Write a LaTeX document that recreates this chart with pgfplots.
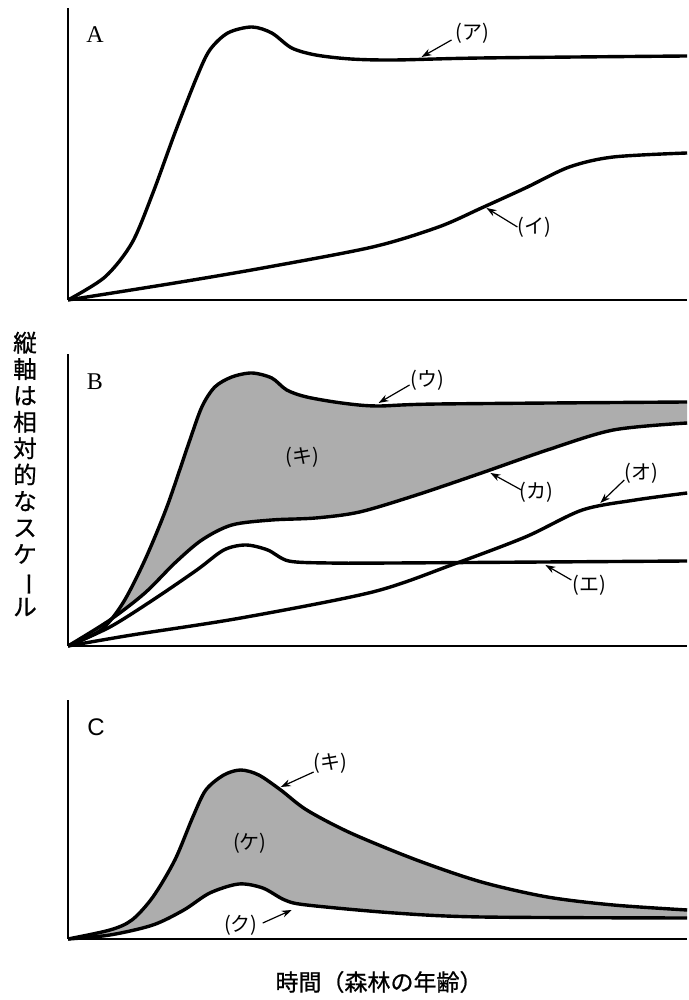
\documentclass[border=0pt]{standalone}
\usepackage{pgfplots}
\pgfplotsset{compat=1.18}
\usepackage{pgfplotstable}
\usepgfplotslibrary{fillbetween}
\usetikzlibrary{arrows.meta}
\usepackage{fontspec}
\setmainfont{Liberation Serif}
\newfontfamily\jp{Noto Sans CJK JP}
\newfontfamily\jpb[FakeBold=0.8]{Noto Sans CJK JP}
\newfontfamily\hv{Liberation Sans}

% panel A
\pgfplotstableread{
x y
0 0
37 23
64 57
85 107
107 167
129 223
142 250
160 267
184 273
204 267
224 252
248 245
283 241
327 240
414 242
620 244
}\curveA
\pgfplotstableread{
x y
0 0
107 17
195 32
305 53
371 73
414 92
458 112
502 133
546 143
620 147
}\curveI

% panel B
\pgfplotstableread{
x y
0 0
33 16
55 43
77 86
99 139
121 203
134 239
147 259
164 269
184 273
204 268
219 256
239 249
274 243
309 240
371 242
620 244
}\curveU
\pgfplotstableread{
x y
0 0
42 26
77 53
107 83
134 106
164 121
204 126
248 128
292 134
349 151
414 173
480 196
546 216
620 223
}\curveKa
\pgfplotstableread{
x y
0 0
42 19
85 46
129 76
156 96
178 101
200 96
221 85
261 83
327 83
620 85
}\curveE
\pgfplotstableread{
x y
0 0
64 11
173 28
305 54
384 81
458 109
515 136
568 146
620 153
}\curveO

% panel C
\pgfplotstableread{
x y
0 0
42 9
64 19
85 42
107 79
125 122
138 149
156 164
173 169
191 164
213 149
239 129
283 106
349 79
414 57
480 42
546 34
620 29
}\curveKi
\pgfplotstableread{
x y
0 0
42 4
85 14
116 29
142 46
171 55
195 51
217 39
239 34
327 26
414 22
620 21
}\curveKu

\definecolor{dotgray}{gray}{0.68}

\pgfplotsset{
  panel/.style={scale only axis, width=309.6pt, xmin=0, xmax=620, ymin=0,
    axis x line=bottom, axis y line=left,
    axis line style={-, line width=0.7pt},
    xtick=\empty, ytick=\empty, clip=false},
  curve/.style={black, line width=1.7pt, smooth, no marks},
}
\tikzset{
  lbl/.style={font=\jp\fontsize{10}{11}\selectfont, inner sep=0pt},
  ptr/.style={-{Stealth[length=5pt,width=3.5pt]}, line width=0.6pt},
}

\begin{document}
\begin{tikzpicture}

% A
\begin{axis}[panel, height=146pt, ymax=292, at={(34pt,350pt)}, anchor=south west]
  \addplot[curve] table {\curveA};
  \addplot[curve] table {\curveI};
  \node[font=\fontsize{12}{14}\selectfont] at (axis cs:27,265) {A};
  \draw[ptr] (axis cs:384,260) -- (axis cs:354,243);
  \node[lbl] at (axis cs:405,267) {(ア)};
  \draw[ptr] (axis cs:450,73) -- (axis cs:419,92);
  \node[lbl] at (axis cs:467,73) {(イ)};
\end{axis}

% B
\begin{axis}[panel, height=146pt, ymax=292, at={(34pt,177pt)}, anchor=south west]
  \addplot[curve, name path=U] table {\curveU};
  \addplot[curve, name path=K] table {\curveKa};
  \addplot[fill=dotgray, draw=none] fill between[of=U and K];
  \addplot[curve] table {\curveE};
  \addplot[curve] table {\curveO};
  \node[font=\fontsize{12}{14}\selectfont] at (axis cs:27,264) {B};
  \draw[ptr] (axis cs:342,261) -- (axis cs:311,243);
  \node[lbl] at (axis cs:360,266) {(ウ)};
  \node[lbl] at (axis cs:235,189) {(キ)};
  \draw[ptr] (axis cs:454,156) -- (axis cs:423,173);
  \node[lbl] at (axis cs:469,154) {(カ)};
  \draw[ptr] (axis cs:557,166) -- (axis cs:533,143);
  \node[lbl] at (axis cs:574,173) {(オ)};
  \draw[ptr] (axis cs:504,66) -- (axis cs:478,81);
  \node[lbl] at (axis cs:522,61) {(エ)};
\end{axis}

% C
\begin{axis}[panel, height=119.5pt, ymax=239, at={(34pt,30.5pt)}, anchor=south west]
  \addplot[curve, name path=T] table {\curveKi};
  \addplot[curve, name path=L] table {\curveKu};
  \addplot[fill=dotgray, draw=none] fill between[of=T and L];
  \node[font=\hv\fontsize{12}{14}\selectfont] at (axis cs:28,212) {C};
  \draw[ptr] (axis cs:246,167) -- (axis cs:213,152);
  \node[lbl] at (axis cs:263,176) {(キ)};
  \node[lbl] at (axis cs:182,96) {(ケ)};
  \draw[ptr] (axis cs:195,16) -- (axis cs:224,29);
  \node[lbl] at (axis cs:173,14) {(ク)};
\end{axis}

% axis titles
\node[align=center, inner sep=0pt, font=\jpb\fontsize{11.8}{13.2}\selectfont]
  at (12.5pt,263pt) {縦\\軸\\は\\相\\対\\的\\な\\ス\\ケ\\\rotatebox[origin=c]{-90}{ー}\\ル};
\node[inner sep=0pt, font=\jpb\fontsize{11.5}{13}\selectfont] at (189.5pt,9pt) {時間（森林の年齢）};
\path (0,0) rectangle (344pt,500pt);
\end{tikzpicture}
\end{document}
